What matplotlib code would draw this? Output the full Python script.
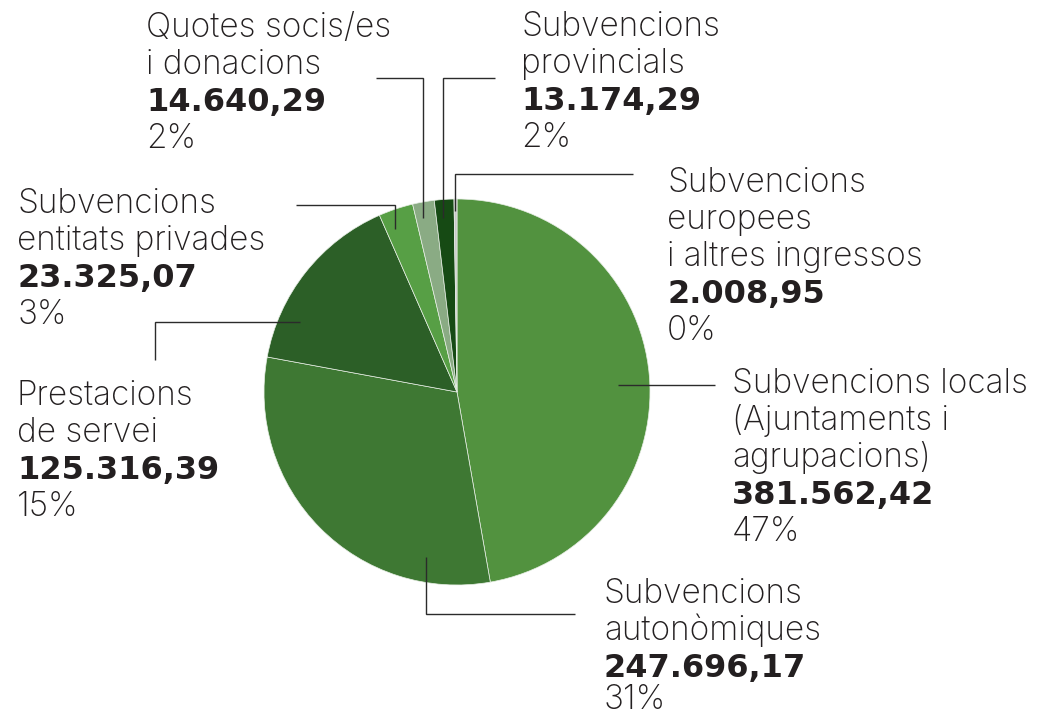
import matplotlib.pyplot as plt

W, H = 1050, 716

# Ingressos per origen (euros), clockwise from the top
CATEGORIES = ["Subvencions locals", "Subvencions autonòmiques", "Prestacions de servei",
              "Subvencions entitats privades", "Quotes socis/es i donacions",
              "Subvencions provincials", "Subvencions europees i altres ingressos"]
VALUES = [381562.42, 247696.17, 125316.39, 23325.07, 14640.29, 13174.29, 2008.95]
VALUE_LABELS = ["381.562,42", "247.696,17", "125.316,39", "23.325,07",
                "14.640,29", "13.174,29", "2.008,95"]
PCT_LABELS = ["47%", "31%", "15%", "3%", "2%", "2%", "0%"]
NAME_LINES = [["Subvencions locals", "(Ajuntaments i", "agrupacions)"],
              ["Subvencions", "autonòmiques"],
              ["Prestacions", "de servei"],
              ["Subvencions", "entitats privades"],
              ["Quotes socis/es", "i donacions"],
              ["Subvencions", "provincials"],
              ["Subvencions", "europees", "i altres ingressos"]]
COLORS = ["#52923f", "#3e7833", "#2c5f27", "#579f45", "#8aab84", "#164a14", "#c9c9c9"]

# label block: left x, first baseline (pixels from top)
LABEL_POS = [(732, 393), (604, 603), (17, 405), (17, 213), (146, 37), (521, 36), (667, 192)]
# leader lines as pixel polylines
LEADERS = [[(618, 385), (715, 385)],
           [(426, 557), (426, 614), (575, 614)],
           [(300, 322), (155, 322), (155, 360)],
           [(395, 229), (395, 205), (296, 205)],
           [(423, 218), (423, 78), (376, 78)],
           [(443, 218), (443, 78), (495, 78)],
           [(455, 211), (455, 174), (633, 174)]]

INK = "#231f20"
STEP = 37
FONT = "Inter"

fig = plt.figure(figsize=(W / 100, H / 100), dpi=100)
ax = fig.add_axes([0, 0, 1, 1])
ax.pie(VALUES, colors=COLORS, startangle=90, counterclock=False,
       center=(457, H - 392), radius=193, frame=True,
       wedgeprops=dict(linewidth=0.5, edgecolor="#e8efe6"))
ax.set_xlim(0, W)
ax.set_ylim(0, H)
ax.set_aspect("equal")
ax.axis("off")

for pts in LEADERS:
    ax.plot([p[0] for p in pts], [H - p[1] for p in pts], color="#2b2b2b", lw=1.0,
            solid_capstyle="butt", solid_joinstyle="miter")

for names, val, pct, (x, y0) in zip(NAME_LINES, VALUE_LABELS, PCT_LABELS, LABEL_POS):
    y = y0
    for line in names:
        ax.text(x, H - y, line, fontsize=24, family=FONT, fontweight="light",
                color=INK, va="baseline", ha="left")
        y += STEP
    ax.text(x, H - y, val, fontsize=23, family="DejaVu Sans", fontweight="bold",
            color=INK, va="baseline", ha="left")
    y += STEP
    ax.text(x, H - min(y, 709), pct, fontsize=24, family=FONT, fontweight="light",
            color=INK, va="baseline", ha="left")

fig.savefig("out.png", dpi=100, facecolor="white")
